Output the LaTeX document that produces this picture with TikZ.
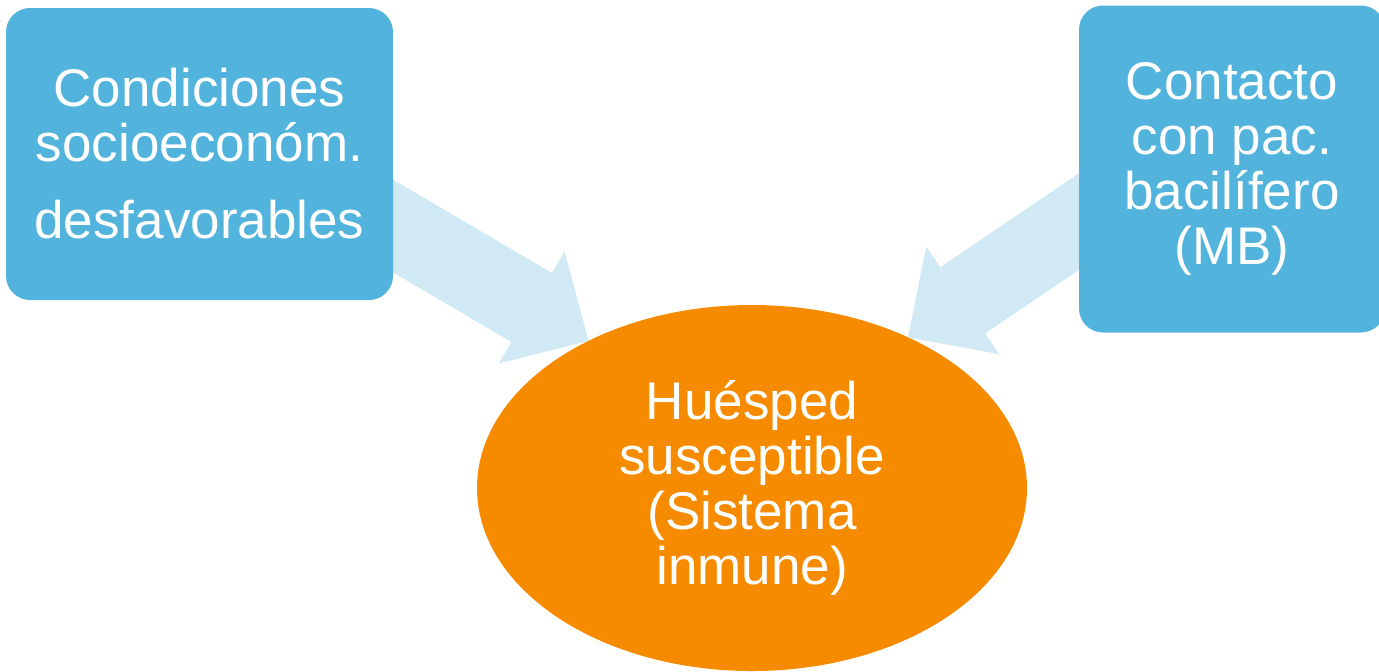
\documentclass[tikz,border=0pt]{standalone}
\usepackage{fontspec}
\setmainfont{Liberation Sans}
\usetikzlibrary{shapes.geometric,arrows.meta}
\definecolor{boxblue}{RGB}{82,179,220}
\definecolor{arrowblue}{RGB}{209,233,244}
\definecolor{hostorange}{RGB}{246,139,0}
\tikzset{
  factor/.style={fill=boxblue, rounded corners=12pt, text=white, align=center,
    inner sep=0pt, font=\fontsize{26.5}{27.5}\selectfont},
  host/.style={ellipse, fill=hostorange, text=white, align=center,
    inner sep=0pt, outer sep=0pt, font=\fontsize{26.5}{27.5}\selectfont},
  blockarrow/.style={draw=arrowblue, line width=40pt,
    -{Triangle[width=65pt, length=33pt, line width=0pt, color=arrowblue]}}
}
\begin{document}
\begin{tikzpicture}[x=0.5pt,y=-0.5pt]
  \useasboundingbox (0,0) rectangle (1379,671);
  \node[host, minimum width=275pt, minimum height=183pt] (host) at (752,488)
    {Huésped\\susceptible\\(Sistema\\inmune)};
  \coordinate (condtail) at (370,212.5);
  \coordinate (contail) at (1110,200.5);
  \begin{scope}
    \draw[blockarrow] (condtail) -- (host.138.6);
    \draw[blockarrow] (contail) -- (host.44.4);
  \end{scope}
  \node[factor, minimum width=193.5pt, minimum height=146pt] (cond) at (199.5,154)
    {Condiciones\\socioeconóm.\\[11pt]desfavorables};
  \node[factor, minimum width=153pt, minimum height=163.5pt] (contact) at (1232,169)
    {Contacto\\con pac.\\bacilífero\\(MB)};
\end{tikzpicture}
\end{document}
